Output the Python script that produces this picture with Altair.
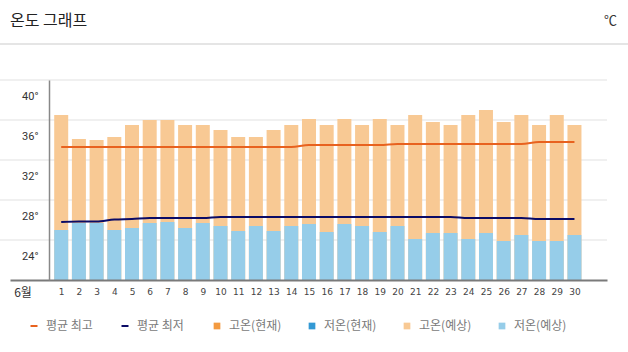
import altair as alt
import pandas as pd

# ---------------- data ----------------
days = list(range(1, 31))
high_forecast = [36.5, 34.1, 34.0, 34.3, 35.5, 36.0, 36.0, 35.5, 35.5, 35.0,
                 34.3, 34.3, 35.0, 35.5, 36.1, 35.5, 36.1, 35.5, 36.1, 35.5,
                 36.5, 35.8, 35.5, 36.5, 37.0, 35.8, 36.5, 35.5, 36.5, 35.5]
low_forecast = [25.0, 25.7, 25.7, 25.0, 25.2, 25.7, 25.8, 25.2, 25.7, 25.4,
                24.9, 25.4, 24.9, 25.4, 25.6, 24.8, 25.6, 25.4, 24.8, 25.4,
                24.1, 24.7, 24.7, 24.1, 24.7, 23.9, 24.5, 23.9, 23.9, 24.5]
avg_high = [33.3, 33.3, 33.3, 33.3, 33.3, 33.3, 33.3, 33.3, 33.3, 33.3,
            33.3, 33.3, 33.3, 33.3, 33.5, 33.5, 33.5, 33.5, 33.5, 33.6,
            33.6, 33.6, 33.6, 33.6, 33.6, 33.6, 33.6, 33.8, 33.8, 33.8]
avg_low = [25.8, 25.85, 25.85, 26.05, 26.1, 26.2, 26.2, 26.2, 26.2, 26.3,
           26.3, 26.3, 26.3, 26.3, 26.3, 26.3, 26.3, 26.3, 26.3, 26.3,
           26.3, 26.3, 26.3, 26.2, 26.2, 26.2, 26.2, 26.1, 26.1, 26.1]

y_ticks = [24, 28, 32, 36, 40]
y_base = 20
month_label = "6월"
title_text = "온도 그래프"
unit_text = "℃"

line_series = ["평균 최고", "평균 최저"]
line_colors = ["#E8621F", "#0B0B66"]
bar_series = ["고온(현재)", "저온(현재)", "고온(예상)", "저온(예상)"]
bar_colors = ["#F39A40", "#3399D4", "#F8C994", "#96CDE9"]

FONT = "Noto Sans CJK KR"

# ---------------- frames ----------------
df_high = pd.DataFrame({"day": days, "value": high_forecast, "series": bar_series[2]})
df_low = pd.DataFrame({"day": days, "value": low_forecast, "series": bar_series[3]})
df_lines = pd.concat([
    pd.DataFrame({"day": days, "value": avg_high, "series": line_series[0]}),
    pd.DataFrame({"day": days, "value": avg_low, "series": line_series[1]}),
])
df_grid = pd.DataFrame({"tick": y_ticks})

x_scale = alt.Scale(domain=[-1.611, 31.556], nice=False, zero=False)
y_scale = alt.Scale(domain=[y_base, y_ticks[-1]], nice=False, zero=False)

fill_scale = alt.Scale(domain=bar_series, range=bar_colors)
stroke_scale = alt.Scale(domain=line_series, range=line_colors)

x_axis = alt.Axis(values=days, title=None, ticks=False, grid=False,
                  domainColor="#7a7a7a", domainWidth=2,
                  labelFontSize=9, labelColor="#444444", labelFont="DejaVu Sans",
                  labelPadding=7, labelAngle=0, labelOverlap=False,
                  labelBound=False, labelFlush=False, zindex=1)
y_axis = alt.Axis(values=y_ticks, title=None, ticks=False, grid=False,
                  offset=-39, domainColor="#888888", domainWidth=1.5,
                  labelFontSize=11, labelColor="#333333", labelFont="Roboto",
                  labelPadding=11, labelOffset=16, labelExpr="datum.value + '°'",
                  labelOverlap=False, zindex=1)

grid = alt.Chart(df_grid).mark_rule(color="#ebebeb", strokeWidth=1.5).encode(
    y=alt.Y("tick:Q", scale=y_scale, axis=y_axis),
    x=alt.value(-10), x2=alt.value(597),
)

legend_fill = alt.Legend(title=None, orient="none", legendX=201, legendY=240,
                         direction="horizontal", symbolType="square", symbolSize=45,
                         symbolStrokeWidth=0, labelFont=FONT, labelFontSize=12,
                         labelColor="#7a7a7a", labelOffset=6, columnPadding=24)
legend_stroke = alt.Legend(title=None, orient="none", legendX=18, legendY=240,
                           direction="horizontal", symbolType="stroke", symbolSize=49,
                           symbolStrokeWidth=2, labelFont=FONT, labelFontSize=12,
                           labelColor="#7a7a7a", labelOffset=6, columnPadding=24)

bars_high = alt.Chart(df_high).mark_bar(width=14).encode(
    x=alt.X("day:Q", scale=x_scale, axis=x_axis),
    y=alt.Y("value:Q", scale=y_scale, axis=y_axis),
    y2=alt.datum(y_base),
    fill=alt.Fill("series:N", scale=fill_scale, legend=legend_fill),
)
bars_low = alt.Chart(df_low).mark_bar(width=14).encode(
    x=alt.X("day:Q", scale=x_scale, axis=x_axis),
    y=alt.Y("value:Q", scale=y_scale, axis=y_axis),
    y2=alt.datum(y_base),
    fill=alt.Fill("series:N", scale=fill_scale, legend=legend_fill),
)
lines = alt.Chart(df_lines).mark_line(strokeWidth=2, interpolate="monotone").encode(
    x=alt.X("day:Q", scale=x_scale, axis=x_axis),
    y=alt.Y("value:Q", scale=y_scale, axis=y_axis),
    stroke=alt.Stroke("series:N", scale=stroke_scale, legend=legend_stroke),
    detail="series:N",
)

one = pd.DataFrame({"t": [title_text]})
title = alt.Chart(one).mark_text(align="left", baseline="middle", font=FONT,
                                 fontSize=16, color="#222222").encode(
    text="t:N", x=alt.value(0), y=alt.value(-59))
unit = alt.Chart(pd.DataFrame({"t": [unit_text]})).mark_text(
    align="right", baseline="middle", font=FONT, fontSize=13, color="#333333").encode(
    text="t:N", x=alt.value(607), y=alt.value(-59))
sep = alt.Chart(one).mark_rule(color="#dddddd", strokeWidth=1.5).encode(
    x=alt.value(-10), x2=alt.value(618), y=alt.value(-36))
month = alt.Chart(pd.DataFrame({"t": [month_label]})).mark_text(
    align="center", baseline="middle", font=FONT, fontSize=12, color="#333333").encode(
    text="t:N", x=alt.value(13), y=alt.value(213))

chart = alt.layer(grid, bars_high, bars_low, lines, title, unit, sep, month).resolve_scale(
    fill="shared", stroke="shared"
).properties(
    width=597, height=200,
    background="white",
    autosize=alt.AutoSizeParams(type="none"),
    padding={"left": 10, "top": 80, "right": 21, "bottom": 72},
).configure_view(stroke="transparent", strokeWidth=0)

chart.save("out.html", embed_options={"renderer": "svg", "actions": False})
